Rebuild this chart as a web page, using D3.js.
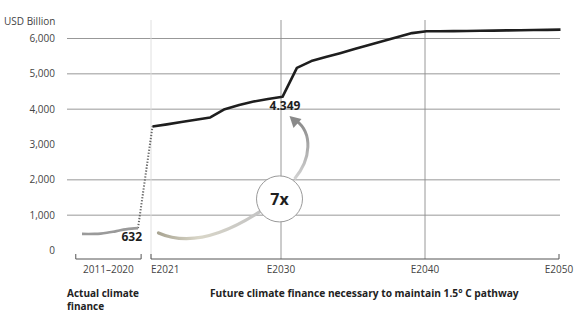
<!DOCTYPE html>
<html>
<head>
<meta charset="utf-8">
<script src="https://cdn.jsdelivr.net/npm/d3@7"></script>
<style>
  html, body { margin: 0; padding: 0; background: #fff; }
  svg { display: block; font-family: "Open Sans", "Noto Sans", sans-serif; }
</style>
</head>
<body>
<svg id="chart" width="580" height="327"></svg>
<script>
// Actual climate finance, 2011–2020 (USD billion)
const histYears  = [2011, 2012, 2013, 2014, 2015, 2016, 2017, 2018, 2019, 2020];
const histValues = [470, 468, 470, 478, 500, 530, 565, 597, 620, 632];

// Required climate finance for a 1.5° C pathway, 2021–2050 (USD billion)
const futureYears  = [2021, 2022, 2023, 2024, 2025, 2026, 2027, 2028, 2029, 2030,
                      2031, 2032, 2033, 2034, 2035, 2036, 2037, 2038, 2039, 2040,
                      2041, 2042, 2043, 2044, 2045, 2046, 2047, 2048, 2049, 2050];
const futureValues = [3510, 3570, 3635, 3700, 3765, 4000, 4120, 4215, 4290, 4349,
                      5170, 5360, 5473, 5586, 5700, 5813, 5926, 6040, 6153, 6205,
                      6207, 6210, 6214, 6218, 6224, 6230, 6235, 6240, 6245, 6250];

const yTicks      = [0, 1000, 2000, 3000, 4000, 5000, 6000];
const yGridValues = [1000, 2000, 4000, 5000, 6000];
const xTickYears  = [2021, 2030, 2040, 2050];
const xTickLabels = ["E2021", "E2030", "E2040", "E2050"];
const histLabel   = "2011–2020";

const startLabel  = "632";
const endLabel    = "4.349";
const multiple    = "7x";

const svg = d3.select("#chart");

const y = d3.scaleLinear().domain([0, 6000]).range([250.5, 38.5]);
const xHist = d3.scaleLinear().domain([2011, 2020]).range([82, 138]);
const xFut = d3.scaleLinear().domain([2021, 2030, 2040, 2050]).range([151, 281, 425, 559]);

const gridLeft = 67, gridRight = 560, gridTop = 20, axisY = 259;

// y-axis unit
svg.append("text").attr("x", 4).attr("y", 25)
  .attr("font-size", 10).attr("fill", "#444").text("USD Billion");

// horizontal gridlines
svg.append("g").selectAll("line").data(yGridValues).join("line")
  .attr("x1", gridLeft).attr("x2", gridRight)
  .attr("y1", d => y(d)).attr("y2", d => y(d))
  .attr("stroke", "#8c8c8c").attr("stroke-width", 0.9);

// y tick labels
svg.append("g").selectAll("text").data(yTicks).join("text")
  .attr("x", 55).attr("y", d => y(d)).attr("dy", "0.35em")
  .attr("text-anchor", "end").attr("font-size", 10).attr("fill", "#444")
  .text(d => d3.format(",")(d));

// vertical gridlines
svg.append("g").selectAll("line").data(xTickYears.slice(0, 3)).join("line")
  .attr("x1", d => xFut(d)).attr("x2", d => xFut(d))
  .attr("y1", gridTop).attr("y2", axisY)
  .attr("stroke", (d, i) => i === 0 ? "#dcdcdc" : "#8c8c8c").attr("stroke-width", 0.9);

// bottom axis: bracket for actual period and axis for future period
const axisG = svg.append("g").attr("stroke", "#555").attr("stroke-width", 1).attr("fill", "none");
const hx0 = xHist(2010), hx1 = xHist(2020.5);
axisG.append("path").attr("d", `M${hx0},${axisY - 5}V${axisY}H${hx1}V${axisY - 5}`);
const fx0 = xFut(2021), fx1 = xFut(2050);
axisG.append("path").attr("d", `M${fx0},${axisY - 5}V${axisY}H${fx1}V${axisY - 5}`);

// x tick labels
svg.append("text").attr("x", (hx0 + hx1) / 2).attr("y", 273)
  .attr("text-anchor", "middle").attr("font-size", 10).attr("fill", "#444").text(histLabel);
svg.append("g").selectAll("text").data(xTickYears).join("text")
  .attr("x", d => xFut(d)).attr("y", 273)
  .attr("text-anchor", (d, i) => i === 0 ? "start" : "middle")
  .attr("font-size", 10).attr("fill", "#444")
  .text((d, i) => xTickLabels[i]);

// section captions
const cap = svg.append("g").attr("font-size", 10).attr("font-weight", 700).attr("fill", "#222");
cap.append("text").attr("x", 67).attr("y", 296.5).text("Actual climate");
cap.append("text").attr("x", 67).attr("y", 310).text("finance");
cap.append("text").attr("x", 210).attr("y", 296.5)
  .attr("font-size", 10.2).text("Future climate finance necessary to maintain 1.5° C pathway");

// connector between actual and required levels
svg.append("line")
  .attr("x1", xHist(2020)).attr("y1", y(histValues[histValues.length - 1]))
  .attr("x2", xFut(2021) + 1.5).attr("y2", y(futureValues[0]))
  .attr("stroke", "#666").attr("stroke-width", 2).attr("stroke-dasharray", "1.3,1.7");

// actual finance line
svg.append("path")
  .datum(histYears.map((yr, i) => [yr, histValues[i]]))
  .attr("fill", "none").attr("stroke", "#9a9a9a").attr("stroke-width", 2.6)
  .attr("stroke-linejoin", "round")
  .attr("d", d3.line().x(d => xHist(d[0])).y(d => y(d[1])).curve(d3.curveMonotoneX));

// required finance line
svg.append("path")
  .datum(futureYears.map((yr, i) => [yr, futureValues[i]]))
  .attr("fill", "none").attr("stroke", "#1e1e1e").attr("stroke-width", 2.6)
  .attr("stroke-linejoin", "round")
  .attr("d", d3.line().x(d => xFut(d[0]) + 1.5).y(d => y(d[1])));

// value labels
svg.append("text").attr("x", xHist(2020) + 4).attr("y", y(632) + 13)
  .attr("text-anchor", "end").attr("font-size", 12).attr("font-weight", 700).attr("fill", "#1e1e1e")
  .text(startLabel);
svg.append("text").attr("x", xFut(2030) + 4).attr("y", y(4349) + 13)
  .attr("text-anchor", "middle").attr("font-size", 12).attr("font-weight", 700).attr("fill", "#1e1e1e")
  .text(endLabel);

// growth annotation: curved arrows through a circled multiple
const cx = xFut(2030) - 1.5, cy = y(1460), r = 23;
const defs = svg.append("defs");
const g1 = defs.append("linearGradient").attr("id", "leftArrow")
  .attr("x1", "0%").attr("x2", "100%").attr("y1", "0%").attr("y2", "0%");
g1.append("stop").attr("offset", "0%").attr("stop-color", "#a9a593");
g1.append("stop").attr("offset", "40%").attr("stop-color", "#d9d6c8");
g1.append("stop").attr("offset", "100%").attr("stop-color", "#c4c4c4");
const g2 = defs.append("linearGradient").attr("id", "rightArrow")
  .attr("x1", "0%").attr("x2", "0%").attr("y1", "100%").attr("y2", "0%");
g2.append("stop").attr("offset", "0%").attr("stop-color", "#d2d2d2");
g2.append("stop").attr("offset", "100%").attr("stop-color", "#8a8a8a");

svg.append("path")
  .attr("d", `M${cx - 121},${cy + 34} Q${cx - 80},${cy + 52} ${cx - 20},${cy + 13}`)
  .attr("fill", "none").attr("stroke", "url(#leftArrow)").attr("stroke-width", 3.2)
  .attr("stroke-linecap", "round");

svg.append("path")
  .attr("d", `M${cx + 15},${cy - 20} C${cx + 32},${cy - 40} ${cx + 33},${cy - 66} ${cx + 17},${cy - 78}`)
  .attr("fill", "none").attr("stroke", "url(#rightArrow)").attr("stroke-width", 3);
// arrow head pointing at the 2030 value
svg.append("path")
  .attr("d", `M${cx + 10},${cy - 83} L${cx + 22},${cy - 80} L${cx + 14},${cy - 71} Z`)
  .attr("fill", "#8a8a8a");

svg.append("circle").attr("cx", cx).attr("cy", cy).attr("r", r)
  .attr("fill", "#fff").attr("stroke", "#9a9a9a").attr("stroke-width", 1);
svg.append("text").attr("x", cx).attr("y", cy).attr("dy", "0.36em")
  .attr("text-anchor", "middle").attr("font-size", 16).attr("font-weight", 700).attr("fill", "#1e1e1e")
  .text(multiple);
</script>
</body>
</html>
